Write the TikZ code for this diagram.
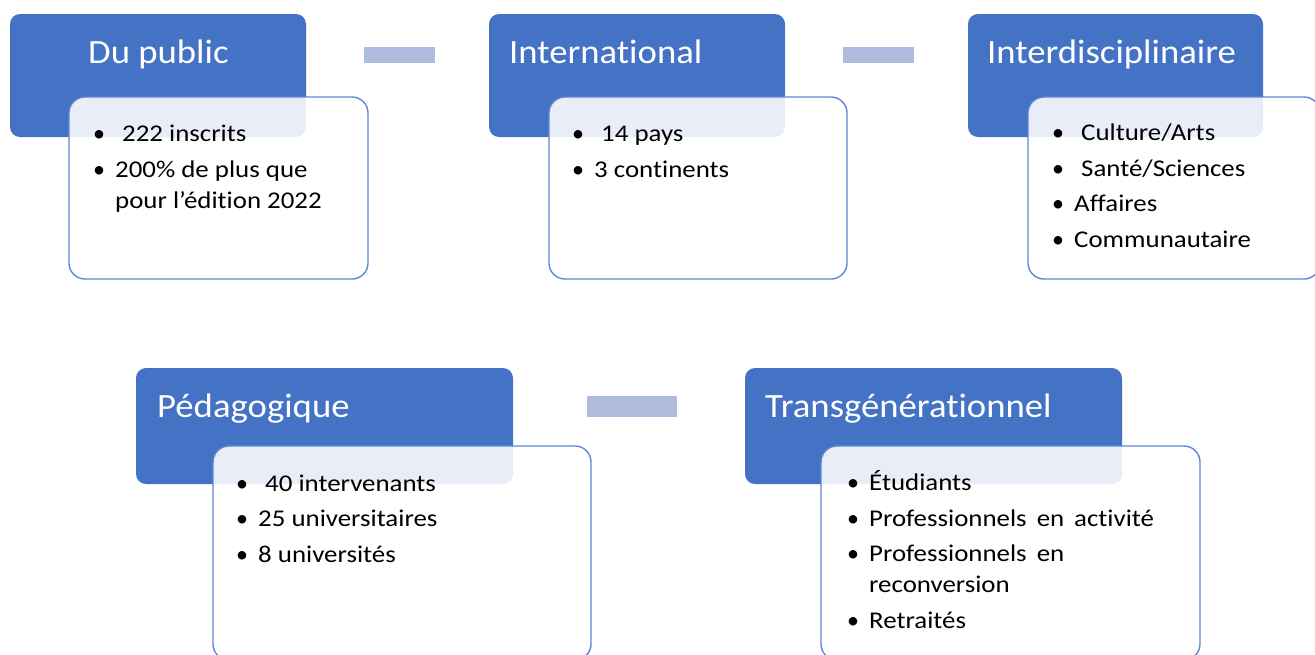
\documentclass[tikz,border=0pt]{standalone}
\usepackage{fontspec}
\setmainfont[Ligatures=CommonOff]{Carlito}
\newfontfamily\hdfont[FakeStretch=1.08, Ligatures=CommonOff]{Carlito}
\newfontfamily\txtfont[FakeStretch=1.12, Ligatures=CommonOff]{Carlito}
\usetikzlibrary{positioning}
\definecolor{hd}{HTML}{4472C4}
\definecolor{bd}{HTML}{5B87D6}
\definecolor{ln}{HTML}{AFBCDE}
\newcommand{\bl}{\makebox[22pt][l]{\rmfamily\textbullet}}
\newcommand{\blx}{\makebox[29pt][l]{\rmfamily\textbullet}}
\newcommand{\nb}{\hspace*{22pt}}
\newcommand{\wsp}{\hspace{10pt}}
\tikzset{hdbox/.style={rectangle, rounded corners=10pt, fill=hd, inner sep=0pt},
         ttl/.style={anchor=base west, inner sep=0pt, text=white,
            font=\hdfont\fontsize{34}{40}\selectfont},
         lst/.style={rectangle, rounded corners=16pt, draw=bd, line width=1.4pt,
            fill=white, fill opacity=0.88, inner sep=0pt},
         itm/.style={anchor=base west, inner sep=0pt, align=left, text=black,
            font=\txtfont\fontsize{24}{31}\selectfont},
         lnk/.style={rectangle, fill=ln, inner sep=0pt}}

\begin{document}
\begin{tikzpicture}[x=1pt, y=-1pt]
\useasboundingbox (0,0) rectangle (1315,654);
% top row (list nodes sit on the baseline of their last line)
 \node[hdbox, minimum width=296, minimum height=123] (h1) at (158,75.5) {};
 \node[hdbox, minimum width=296, minimum height=123] (h2) at (637,75.5) {};
 \node[hdbox, minimum width=295, minimum height=123] (h3) at (1115.5,75.5) {};
 \node[ttl] (t1) at (88,63) {Du public};
 \node[ttl] (t2) at (509,63) {International};
 \node[ttl] (t3) at (987,63) {Interdisciplinaire};
 \node[lst, minimum width=299, minimum height=182] (w1) at (218.5,188) {};
 \node[lst, minimum width=298, minimum height=182] (w2) at (698,188) {};
 \node[lst, minimum width=292, minimum height=182] (w3) at (1174,188) {};
 \node[itm] (l1) at (93,208) {\blx 222 inscrits\\[4.5pt]
    \bl 200\% de plus que\\ \nb pour l’édition 2022};
 \node[itm] (l2) at (572,177) {\blx 14 pays\\[4.5pt] \bl 3 continents};
 \node[itm] (l3) at (1052,247) {\blx Culture/Arts\\[4.5pt] \blx Santé/Sciences\\[4.5pt]
    \bl Affaires\\[4.5pt] \bl Communautaire};
 \node[lnk, minimum width=71, minimum height=16] (d1) at (399.5,55) {};
 \node[lnk, minimum width=71, minimum height=16] (d2) at (878,55) {};
% bottom row
 \node[hdbox, minimum width=377, minimum height=116] (h4) at (324.5,426) {};
 \node[hdbox, minimum width=377, minimum height=116] (h5) at (933.5,426) {};
 \node[ttl] (t4) at (157,417) {Pédagogique};
 \node[ttl] (t5) at (765,417) {Transgénérationnel};
 \node[lst, minimum width=378, minimum height=214] (w4) at (402,553) {};
 \node[lst, minimum width=379, minimum height=214] (w5) at (1010.5,553) {};
 \node[itm] (l4) at (236,562) {\blx 40 intervenants\\[4.5pt] \bl 25 universitaires\\[4.5pt]
    \bl 8 universités};
 \node[itm] (l5) at (847,628) {\bl Étudiants\\[4.5pt] \bl Professionnels\wsp en\wsp activité\\[4.5pt]
    \bl Professionnels\wsp en\\ \nb reconversion\\[4.5pt] \bl Retraités};
 \node[lnk, minimum width=90, minimum height=21] (d3) at (632,406.5) {};
\end{tikzpicture}
\end{document}
